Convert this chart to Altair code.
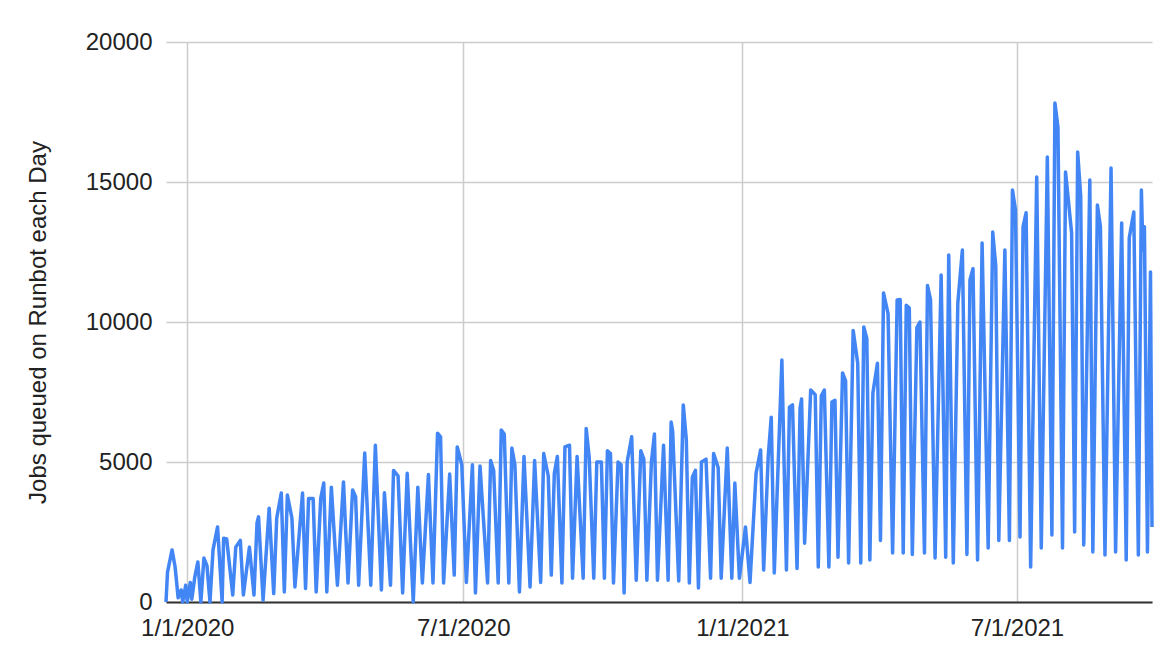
import altair as alt
import pandas as pd

# Day offsets relative to 2020-01-01 (turning points)
day_offset = [
    -14, -13, -10, -8, -6, -4, -3, -1, 0, 2, 3, 5, 7, 9, 11, 13, 15, 17, 20, 23,
    24, 26, 30, 32, 35, 37, 41, 44, 46, 47, 50, 54, 57, 59, 62, 64, 66, 69, 71, 76,
    78, 80, 83, 85, 88, 90, 92, 95, 99, 103, 106, 109, 111, 113, 117, 121, 124, 128, 130, 134,
    136, 139, 142, 145, 149, 152, 155, 159, 162, 165, 167, 169, 173, 176, 178, 181, 184, 188, 190, 193,
    198, 200, 202, 205, 207, 209, 212, 214, 216, 219, 222, 226, 229, 233, 235, 238, 240, 242, 244, 247,
    249, 252, 254, 257, 261, 263, 265, 268, 270, 273, 275, 277, 279, 281, 284, 286, 288, 290, 293, 296,
    299, 301, 303, 306, 308, 310, 314, 317, 319, 320, 324, 327, 329, 331, 333, 335, 337, 339, 342, 345,
    347, 350, 352, 356, 359, 361, 364, 368, 371, 375, 378, 380, 383, 385, 387, 392, 395, 397, 399, 402,
    404, 405, 407, 411, 414, 416, 418, 420, 423, 425, 427, 429, 432, 434, 436, 439, 442, 444, 446, 448,
    450, 452, 455, 457, 459, 462, 465, 468, 470, 472, 474, 476, 478, 481, 483, 486, 488, 490, 493, 497,
    500, 502, 505, 508, 511, 514, 516, 518, 521, 524, 528, 531, 533, 535, 539, 542, 544, 546, 549, 551,
    553, 556, 560, 563, 567, 570, 572, 574, 577, 579, 583, 585, 587, 589, 591, 595, 597, 600, 602, 605,
    609, 612, 616, 619, 621, 624, 627, 629, 630, 631, 633, 635, 636,
]

jobs = [
    0, 1070, 1860, 1250, 150, 430, 0, 600, 0, 700, 100, 900, 1430, 0, 1570, 1300, 0, 1860, 2680, 0,
    2280, 2250, 250, 1960, 2200, 250, 1960, 250, 2820, 3040, 70, 3350, 300, 3000, 3890, 360, 3820, 3000, 540, 3890,
    480, 3700, 3700, 360, 3700, 4250, 360, 4100, 600, 4290, 680, 4000, 3760, 600, 5320, 600, 5600, 430, 3900, 600,
    4700, 4500, 320, 4600, 0, 4100, 680, 4550, 680, 6030, 5900, 680, 4570, 960, 5540, 4900, 700, 4900, 320, 4860,
    680, 5050, 4700, 680, 6140, 6000, 680, 5500, 4900, 360, 5200, 540, 5050, 700, 5300, 4500, 960, 4600, 5200, 680,
    5540, 5600, 850, 5200, 850, 6200, 5150, 850, 5000, 5000, 850, 5400, 5300, 680, 5000, 4900, 320, 5000, 5900, 780,
    5400, 5100, 780, 5000, 6000, 780, 5600, 780, 6430, 6100, 750, 7040, 5800, 680, 4460, 4700, 500, 5000, 5100, 850,
    5300, 4800, 850, 5500, 850, 4250, 850, 2680, 700, 4600, 5430, 1140, 5200, 6600, 1040, 8640, 1140, 6960, 7040, 1200,
    6930, 7250, 2100, 7570, 7400, 1250, 7360, 7570, 1250, 7140, 7200, 1600, 8180, 7900, 1390, 9700, 8530, 1390, 9820, 9400,
    1500, 7460, 8530, 2200, 11040, 10300, 1750, 10790, 10800, 1750, 10600, 10500, 1700, 9800, 10000, 1750, 11300, 10800, 1570, 11680,
    1600, 12390, 1390, 10680, 12570, 1700, 11500, 11900, 1500, 12820, 1930, 13210, 12000, 2200, 12570, 2200, 14710, 14000, 2320, 13400,
    13900, 1250, 15180, 1930, 15890, 2390, 17820, 16960, 1930, 15360, 13180, 2500, 16070, 14500, 2040, 15070, 1790, 14180, 13400, 1680,
    15500, 1790, 13540, 1500, 13000, 13930, 1680, 14710, 12570, 13400, 1790, 11790, 2680,
]

y_ticks = [0, 5000, 10000, 15000, 20000]
x_tick_dates = [(2020, 1, 1), (2020, 7, 1), (2021, 1, 1), (2021, 7, 1)]

df = pd.DataFrame({
    "date": pd.Timestamp("2020-01-01") + pd.to_timedelta(day_offset, unit="D"),
    "jobs": jobs,
})

FONT = "Liberation Sans"

chart = (
    alt.Chart(df)
    .mark_line(color="#4285F4", strokeWidth=3.5, strokeJoin="round")
    .encode(
        x=alt.X(
            "date:T",
            scale=alt.Scale(nice=False),
            axis=alt.Axis(
                values=[alt.DateTime(year=y, month=m, date=d) for (y, m, d) in x_tick_dates],
                format="%-m/%-d/%Y",
                title=None,
                grid=True,
                gridColor="#cccccc",
                gridWidth=1.5,
                domainColor="#333333",
                domainWidth=2,
                ticks=False,
                tickSize=0,
                labelFontSize=24,
                labelFont=FONT,
                labelColor="#222222",
                labelPadding=14,
                labelFlush=False,
            ),
        ),
        y=alt.Y(
            "jobs:Q",
            scale=alt.Scale(domain=[0, 20000], nice=False),
            axis=alt.Axis(
                values=y_ticks,
                format="d",
                title="Jobs queued on Runbot each Day",
                titleFont=FONT,
                titleFontSize=24,
                titleFontWeight="normal",
                titleColor="#222222",
                titleX=-116,
                titleY=280,
                domain=False,
                ticks=False,
                tickSize=0,
                grid=True,
                gridColor="#cccccc",
                gridWidth=1.5,
                labelFontSize=24,
                labelFont=FONT,
                labelColor="#222222",
                labelPadding=14,
            ),
        ),
    )
    .properties(
        width=986,
        height=560,
        autosize=alt.AutoSizeParams(type="none"),
        padding={"left": 158, "top": 34, "right": 14, "bottom": 53},
        background="white",
    )
    .configure_view(stroke=None)
)

chart.save("out.html", embed_options={"renderer": "svg", "actions": False})
